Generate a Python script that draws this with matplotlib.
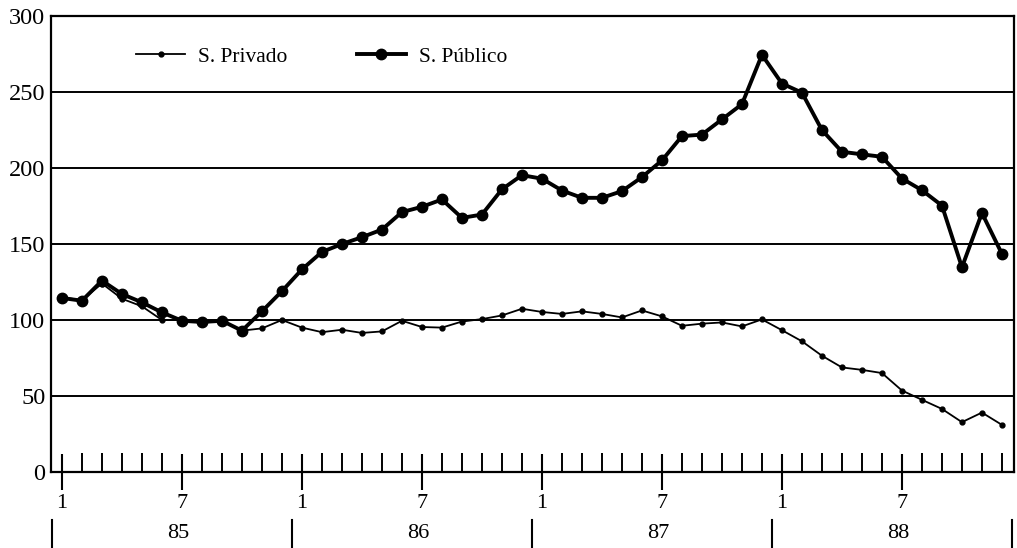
import numpy as np
import matplotlib.pyplot as plt
from matplotlib.lines import Line2D
import matplotlib.transforms as mtransforms

plt.rcParams['font.family'] = ['Liberation Serif', 'DejaVu Serif']

# monthly index, Jan 1985 .. Dec 1988
months = np.arange(48)
month_labels = ['1', '7'] * 4
years = ['85', '86', '87', '88']

privado = [115, 113, 124, 114, 109, 100, 100, 99, 99.5, 93,
           94.5, 100, 95, 92, 93.6, 91.5, 92.5, 99.5, 95.4, 95,
           99, 100.6, 103, 107.4, 105.3, 104, 105.7, 104, 101.7, 106.3,
           102.4, 96.2, 97.6, 98.4, 95.8, 100.4, 93.3, 86, 76.5, 68.8,
           67.2, 65.1, 53.6, 47.5, 41.5, 32.8, 39.1, 31]

publico = [114.5, 112.7, 125.9, 117.1, 111.6, 105, 99.5, 98.7, 99.5, 93,
           105.7, 119, 133.3, 144.8, 150, 154.5, 159.5, 171, 174.5, 179.3,
           167.2, 169.4, 186, 195.3, 193, 185.2, 180.4, 180.4, 184.8, 194,
           205, 221, 222, 232, 242, 274.5, 255.6, 249.6, 225, 210.7,
           209, 207.4, 193.1, 185.4, 175.3, 134.7, 170.4, 143.5]

fig = plt.figure(figsize=(10.17, 5.48), dpi=100)
ax = fig.add_axes([0.0501, 0.1387, 0.9469, 0.832])

ax.plot(months, privado, color='black', lw=1.3, marker='o', ms=3.5, label='S. Privado')
ax.plot(months, publico, color='black', lw=2.8, marker='o', ms=7.5, label='S. Público')

ax.set_xlim(-0.55, 47.6)
ax.set_ylim(0, 300)
ax.set_yticks(np.arange(0, 301, 50))
for v in range(50, 300, 50):
    ax.axhline(v, color='black', lw=1.4, zorder=0)

for s in ax.spines.values():
    s.set_linewidth(1.6)

ax.set_xticks(months[::6])
ax.set_xticklabels(month_labels)
ax.set_xticks(months, minor=True)
ax.tick_params(axis='x', which='major', direction='inout', length=26, width=1.5,
               labelsize=16, pad=3)
ax.tick_params(axis='x', which='minor', direction='in', length=14, width=1.4)
ax.tick_params(axis='y', length=0, labelsize=17.5, pad=4)

# year separators and labels below the month labels
trans = mtransforms.blended_transform_factory(ax.transData, ax.transAxes)
for k in range(5):
    xs = -0.5 + 12 * k
    ax.add_line(Line2D([xs, xs], [-0.105, -0.166], transform=trans, color='black',
                       lw=1.5, clip_on=False))
for k, yr in enumerate(years):
    ax.text(5.8 + 12 * k, -0.136, yr, transform=trans, ha='center', va='center',
            fontsize=16)

ax.legend(loc='upper left', bbox_to_anchor=(0.068, 0.975), ncol=2, frameon=False,
          fontsize=15.5, handlelength=2.3, columnspacing=3.2, handletextpad=0.6)

fig.savefig('out.png', dpi=100)
